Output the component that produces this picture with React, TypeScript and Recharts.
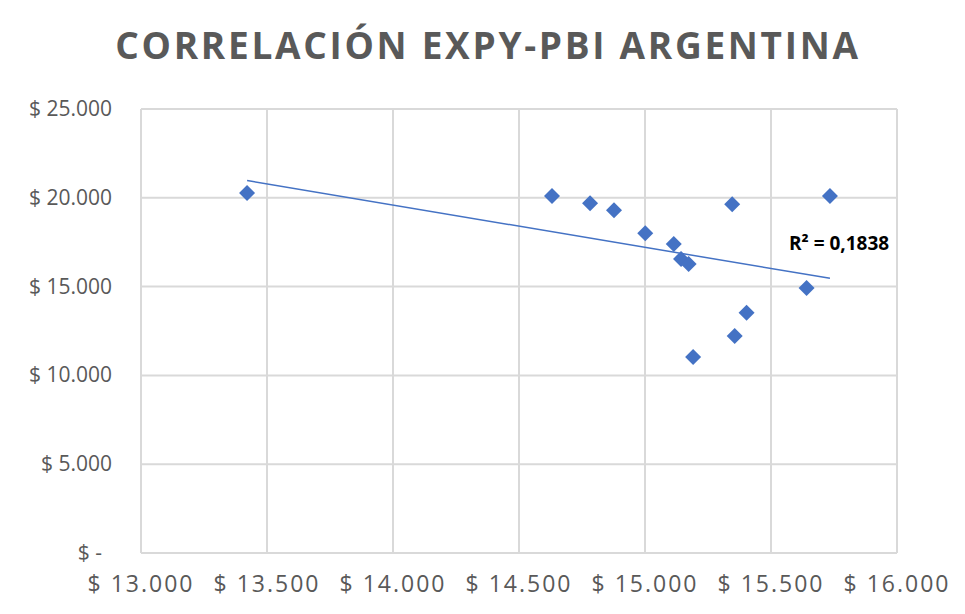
import { ScatterChart, Scatter, XAxis, YAxis, CartesianGrid, ReferenceLine } from 'recharts'

// EXPY (x) vs PBI per cápita (y)
const expy = [13421, 14631, 14782, 14877, 15001, 15114, 15143, 15173, 15191, 15346, 15356, 15403, 15641, 15734]
const pbi = [20270, 20100, 19690, 19300, 18000, 17400, 16560, 16270, 11040, 19630, 12220, 13530, 14920, 20100]

const xTicks = [13000, 13500, 14000, 14500, 15000, 15500, 16000]
const yTicks = [0, 5000, 10000, 15000, 20000, 25000]

const r2Label = 'R² = 0,1838'
const title = 'CORRELACIÓN EXPY-PBI ARGENTINA'

const points = expy.map((x, i) => ({ x, y: pbi[i] }))

// linear least squares trendline, like Excel's
const n = expy.length
const mx = expy.reduce((a, b) => a + b, 0) / n
const my = pbi.reduce((a, b) => a + b, 0) / n
let sxy = 0
let sxx = 0
expy.forEach((x, i) => {
  sxy += (x - mx) * (pbi[i] - my)
  sxx += (x - mx) * (x - mx)
})
const slope = sxy / sxx
const icpt = my - slope * mx
const xMin = Math.min(...expy)
const xMax = Math.max(...expy)
const trend = [
  { x: xMin, y: icpt + slope * xMin },
  { x: xMax, y: icpt + slope * xMax },
]

const fmt = (v: number) => (v === 0 ? '$ -' : '$ ' + v.toLocaleString('de-DE'))

const TEXT = '#595959'
const BLUE = '#4472C4'
const GRID = '#D9D9D9'
const FONT = '"Open Sans", sans-serif'

const Diamond = (props: any) => {
  const { cx, cy } = props
  const r = 8
  return <polygon points={`${cx},${cy - r} ${cx + r},${cy} ${cx},${cy + r} ${cx - r},${cy}`} fill={BLUE} />
}

const XTick = (props: any) => (
  <text x={props.x} y={props.y + 39} textAnchor="middle" fill={TEXT} fontSize={23} fontFamily={FONT} letterSpacing={2}>
    {fmt(props.payload.value)}
  </text>
)

const YTick = (props: any) => {
  const v = props.payload.value
  return (
    <text x={props.x - (v === 0 ? 39 : 29)} y={props.y + 7} textAnchor="end" fill={TEXT} fontSize={21} fontFamily={FONT}>
      {fmt(v)}
    </text>
  )
}

export default function App() {
  return (
    <div style={{ position: 'relative', width: 965, height: 614, margin: -8, overflow: 'hidden', background: '#fff', fontFamily: FONT }}>
      <div style={{ position: 'absolute', left: 5, top: 4, width: 980, height: 630, border: `1px solid ${GRID}` }} />
      <div
        style={{
          position: 'absolute',
          left: 0,
          width: 976,
          top: 21,
          textAlign: 'center',
          fontSize: 37,
          fontWeight: 700,
          letterSpacing: 2.7,
          color: TEXT,
          lineHeight: '48px',
        }}
      >
        {title}
      </div>
      <ScatterChart width={965} height={614} margin={{ top: 109, right: 68, bottom: 0, left: 0 }}>
        <CartesianGrid stroke={GRID} strokeWidth={2} />
        <XAxis
          type="number"
          dataKey="x"
          domain={[13000, 16000]}
          ticks={xTicks}
          height={61}
          axisLine={false}
          tickLine={false}
          tickSize={0}
          tickMargin={0}
          tick={XTick}
          interval={0}
        />
        <YAxis
          type="number"
          dataKey="y"
          domain={[0, 25000]}
          ticks={yTicks}
          width={141}
          axisLine={false}
          tickLine={false}
          tickSize={0}
          tickMargin={0}
          tick={YTick}
          interval={0}
        />
        <ReferenceLine segment={trend} stroke={BLUE} strokeWidth={1.5} ifOverflow="visible" />
        <Scatter data={points} shape={Diamond} isAnimationActive={false} />
      </ScatterChart>
      <div style={{ position: 'absolute', left: 789, top: 230, fontSize: 19, fontWeight: 700, color: '#000', whiteSpace: 'nowrap' }}>
        {r2Label}
      </div>
    </div>
  )
}
